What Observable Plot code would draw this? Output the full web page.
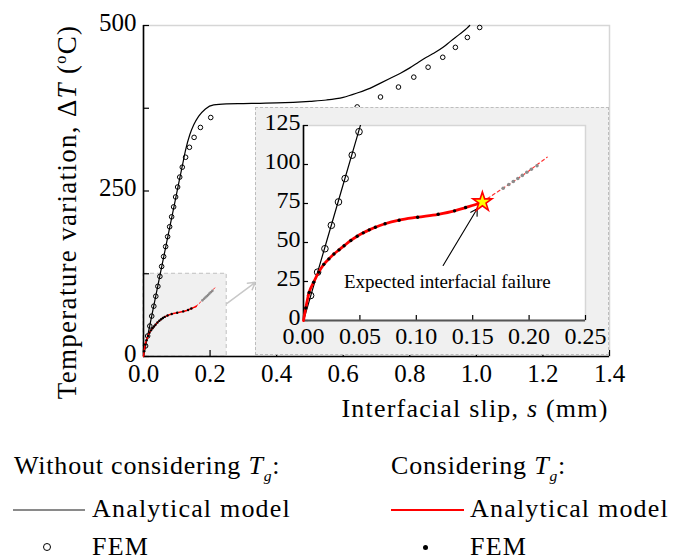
<!DOCTYPE html>
<html>
<head>
<meta charset="utf-8">
<script src="https://cdn.jsdelivr.net/npm/d3@7"></script>
<script src="https://cdn.jsdelivr.net/npm/@observablehq/plot@0.6"></script>
<style>
  body { margin: 0; background: white; }
  #root { position: relative; width: 673px; height: 560px; overflow: hidden; font-family: 'Liberation Serif', serif; color: #000; }
  .abs { position: absolute; white-space: nowrap; }
  .t26 { font-size: 26px; line-height: 30px; letter-spacing: 1.2px; }
  .t25 { font-size: 26px; line-height: 30px; letter-spacing: 0.8px; }
  .t27 { font-size: 27px; line-height: 30px; letter-spacing: 1.3px; }
  sub { font-size: 60%; vertical-align: -0.45em; line-height: 0; }
  sup { font-size: 60%; vertical-align: 0.6em; line-height: 0; }
  #root svg text { font-family: 'Liberation Serif', serif; }
</style>
</head>
<body>
<div id="root">
  <div id="main" class="abs" style="left:0;top:0"></div>
  <div id="inset" class="abs" style="left:255px;top:107px;width:354px;height:248px;outline:1px dashed #bdbdbd;outline-offset:-1px;"></div>
  <div class="abs t27" style="left:-143px;top:197px;width:420px;text-align:center;transform:rotate(-90deg);">Temperature variation, Δ<i>T</i> (<sup>o</sup>C)</div>
  <div class="abs t26" style="left:275px;top:394px;width:400px;text-align:center;">Interfacial slip, <i>s</i> (mm)</div>

  <div class="abs t25" style="left:14px;top:451px;">Without considering <i>T</i><sub><i>g</i></sub>:</div>
  <div class="abs t25" style="left:391px;top:451px;">Considering <i>T</i><sub><i>g</i></sub>:</div>

  <div class="abs" style="left:13px;top:509px;width:72px;border-top:2px solid #8a8a8a;"></div>
  <div class="abs t26" style="left:92px;top:494px;">Analytical model</div>
  <div class="abs" style="left:391px;top:509px;width:73px;border-top:2px solid #ff0000;"></div>
  <div class="abs t26" style="left:470px;top:494px;">Analytical model</div>

  <div class="abs" style="left:43px;top:543px;width:6px;height:6px;border:1.2px solid #000;border-radius:50%;"></div>
  <div class="abs t26" style="left:92px;top:532px;">FEM</div>
  <div class="abs" style="left:423px;top:545px;width:5px;height:5px;background:#000;border-radius:50%;"></div>
  <div class="abs t26" style="left:470px;top:532px;">FEM</div>
</div>
<script>
// ---------- Axes / ticks ----------
const mainXDomain = [0, 1.4];
const mainYDomain = [0, 500];
const mainXTicks = [0, 0.2, 0.4, 0.6, 0.8, 1.0, 1.2, 1.4];
const mainYLabelTicks = [0, 250, 500];
const mainYTicks = [0, 125, 250, 375, 500];
const insetXDomain = [0, 0.25];
const insetYDomain = [0, 125];
const insetXTicks = [0, 0.05, 0.10, 0.15, 0.20, 0.25];
const insetYTicks = [0, 25, 50, 75, 100, 125];

// ---------- Without considering Tg: analytical model ----------
const noTgS = [0, 0.02, 0.05, 0.08, 0.11, 0.117, 0.126, 0.139, 0.151, 0.166, 0.186, 0.211, 0.25, 0.30, 0.35, 0.40, 0.45, 0.50, 0.55, 0.60, 0.642, 0.68, 0.712, 0.74, 0.772, 0.80, 0.822, 0.85, 0.872, 0.90, 0.922, 0.95, 0.972, 0.98];
const noTgT = [0, 49.5, 124, 198, 272, 289, 311, 335, 350, 363, 374, 380, 381.5, 382, 382.5, 383, 384, 385.5, 387.5, 391.5, 398, 405, 413, 420, 428, 436, 443, 452, 458, 467, 476, 487, 496, 500];

// ---------- Without considering Tg: FEM ----------
const femNoTgS = [0.0063, 0.0125, 0.019, 0.0247, 0.031, 0.0369, 0.0432, 0.0492, 0.0545, 0.0605, 0.0665, 0.0725, 0.0785, 0.0845, 0.0905, 0.0965, 0.1025, 0.1088, 0.1165, 0.1265, 0.138, 0.152, 0.171, 0.202, 0.642, 0.712, 0.766, 0.812, 0.855, 0.899, 0.937, 0.973, 1.010];
const femNoTgT = [16, 31, 46, 61, 76, 91, 106, 121, 136, 151, 166, 181, 196, 211, 226, 241, 256, 271, 286, 301, 316, 331, 346, 361, 377, 392, 407, 422, 437, 452, 467, 482, 497];

// ---------- Considering Tg: analytical model (up to failure) ----------
const tgS = [0, 0.002, 0.005, 0.009, 0.0135, 0.018, 0.0225, 0.027, 0.0315, 0.036, 0.042, 0.0476, 0.053, 0.0583, 0.0637, 0.0723, 0.0848, 0.1012, 0.1194, 0.1339, 0.1437, 0.152, 0.1586];
const tgT = [0, 8, 18, 24.5, 31, 36, 39.5, 42.6, 45.3, 47.9, 51.3, 54, 56.2, 58.1, 59.8, 62, 64.3, 66.2, 68.1, 70.3, 72.4, 74.2, 76];
// beyond the expected failure (dashed)
const tgPostS = [0.1586, 0.17, 0.18, 0.19, 0.20, 0.216];
const tgPostT = [76, 81.5, 86.3, 91, 96, 104.7];

// ---------- Considering Tg: FEM ----------
const femTgS = [0.002, 0.005, 0.009, 0.0135, 0.018, 0.0225, 0.027, 0.0315, 0.036, 0.042, 0.0476, 0.053, 0.0583, 0.0637, 0.0723, 0.0848, 0.1012, 0.1194, 0.1339, 0.1437];
const femTgT = [8, 18, 24.5, 31, 36, 39.5, 42.6, 45.3, 47.9, 51.3, 54, 56.2, 58.1, 59.8, 62, 64.3, 66.2, 68.1, 70.3, 72.4];
// FEM points after failure (grey)
const femPostS = [0.177, 0.182, 0.186, 0.190, 0.194, 0.198, 0.202, 0.207];
const femPostT = [84.8, 87.2, 89.1, 91, 93, 95, 97, 99.2];

// ---------- Annotations ----------
const failurePoint = [{s: 0.1586, T: 76}];
const failureLabel = "Expected interfacial failure";
const failureLabelPos = [{s: 0.1275, T: 25}];
const failureArrow = [{s1: 0.1238, T1: 35.3, s2: 0.154, T2: 71.6}];
const zoomArrow = [{s1: 0.25, T1: 80, s2: 0.336, T2: 112}];

const zip = (xs, ys) => xs.map((s, i) => ({s, T: ys[i]}));
const noTg = zip(noTgS, noTgT);
const femNoTg = zip(femNoTgS, femNoTgT);
const tg = zip(tgS, tgT);
const tgPost = zip(tgPostS, tgPostT);
const femTg = zip(femTgS, femTgT);
const femPost = zip(femPostS, femPostT);
const zoomBox = [{x1: insetXDomain[0], x2: insetXDomain[1], y1: insetYDomain[0], y2: insetYDomain[1]}];

const font = "'Liberation Serif', serif";

// ---------- Main chart ----------
const mW = 673, mH = 430, mL = 143, mR = 64, mT = 25, mB = 74;
const main = Plot.plot({
  width: mW, height: mH,
  marginLeft: mL, marginRight: mR, marginTop: mT, marginBottom: mB,
  x: {domain: mainXDomain},
  y: {domain: mainYDomain},
  style: {fontFamily: font, fontSize: "25px", color: "#000", background: "transparent", overflow: "visible"},
  marks: [
    Plot.rect(zoomBox, {x1: "x1", x2: "x2", y1: "y1", y2: "y2", fill: "#f0f0f0", stroke: "#c0c0c0", strokeDasharray: "4,3"}),
    Plot.frame({stroke: "#d6d6d6", strokeWidth: 1.5}),
    Plot.axisX({ticks: mainXTicks, tickSize: 0, tickPadding: 8, tickFormat: d3.format(".1f"), label: null, fontFamily: font}),
    Plot.axisY({ticks: mainYLabelTicks, tickSize: 0, tickPadding: 7, dy: -3, label: null, fontFamily: font}),
    Plot.tickX(mainXTicks, {x: d => d, insetTop: (mH - mT - mB) - 6, stroke: "#000", strokeWidth: 1.2}),
    Plot.tickY(mainYTicks, {y: d => d, insetRight: (mW - mL - mR) - 6, stroke: "#000", strokeWidth: 1.2}),
    Plot.ruleX([0], {stroke: "#000", strokeWidth: 1.6}),
    Plot.ruleY([0], {stroke: "#000", strokeWidth: 1.6}),
    Plot.arrow(zoomArrow, {x1: "s1", y1: "T1", x2: "s2", y2: "T2", stroke: "#c8c8c8", strokeWidth: 1.5, headLength: 8}),
    Plot.line(noTg, {x: "s", y: "T", curve: "monotone-x", stroke: "#000", strokeWidth: 1.2}),
    Plot.dot(femNoTg, {x: "s", y: "T", r: 2.3, stroke: "#000", strokeWidth: 1, fill: "none"}),
    Plot.line(tgPost, {x: "s", y: "T", stroke: "#ff2020", strokeWidth: 1, strokeDasharray: "2,2"}),
    Plot.dot(femPost, {x: "s", y: "T", r: 1.3, fill: "#8c8c8c"}),
    Plot.line(tg, {x: "s", y: "T", curve: "monotone-x", stroke: "#ff0000", strokeWidth: 1.6}),
    Plot.dot(femTg, {x: "s", y: "T", r: 1.2, fill: "#000"})
  ]
});
document.getElementById("main").appendChild(main);

// ---------- Inset ----------
const iW = 354, iH = 248, iL = 48, iR = 24, iT = 18, iB = 35;
const inset = Plot.plot({
  width: iW, height: iH,
  marginLeft: iL, marginRight: iR, marginTop: iT, marginBottom: iB,
  x: {domain: insetXDomain},
  y: {domain: insetYDomain},
  style: {fontFamily: font, fontSize: "24px", color: "#000", background: "#f0f0f0", overflow: "visible"},
  marks: [
    Plot.frame({fill: "white", stroke: "#d6d6d6", strokeWidth: 1.5}),
    Plot.axisX({ticks: insetXTicks, tickSize: 0, tickPadding: 6, tickFormat: d3.format(".2f"), label: null, fontFamily: font}),
    Plot.axisY({ticks: insetYTicks, tickSize: 0, tickPadding: 3, dy: -3, label: null, fontFamily: font}),
    Plot.tickX(insetXTicks, {x: d => d, insetTop: (iH - iT - iB) - 5, stroke: "#000", strokeWidth: 1.2}),
    Plot.tickY(insetYTicks, {y: d => d, insetRight: (iW - iL - iR) - 5, stroke: "#000", strokeWidth: 1.2}),
    Plot.ruleX([0], {stroke: "#000", strokeWidth: 1.6}),
    Plot.ruleY([0], {stroke: "#555", strokeWidth: 2}),
    Plot.line(noTg, {x: "s", y: "T", curve: "monotone-x", stroke: "#000", strokeWidth: 1.2, clip: true}),
    Plot.dot(femNoTg, {x: "s", y: "T", r: 3.3, stroke: "#000", strokeWidth: 1, fill: "none", clip: true}),
    Plot.line(tgPost, {x: "s", y: "T", stroke: "#ff3030", strokeWidth: 1.2, strokeDasharray: "3,3"}),
    Plot.dot(femPost, {x: "s", y: "T", r: 1.8, fill: "#8c8c8c"}),
    Plot.line(tg, {x: "s", y: "T", curve: "monotone-x", stroke: "#ff0000", strokeWidth: 2.8}),
    Plot.dot(femTg, {x: "s", y: "T", r: 1.7, fill: "#000"}),
    Plot.arrow(failureArrow, {x1: "s1", y1: "T1", x2: "s2", y2: "T2", stroke: "#000", strokeWidth: 1.1, headLength: 10}),
    Plot.dot(failurePoint, {x: "s", y: "T", symbol: "star", r: 6, fill: "#ffff00", stroke: "#ff0000", strokeWidth: 1.6}),
    Plot.text(failureLabelPos, {x: "s", y: "T", text: () => failureLabel, fontSize: 19, fontFamily: font, fill: "#000", style: "letter-spacing:0.8px"})
  ]
});
document.getElementById("inset").appendChild(inset);
</script>
</body>
</html>
